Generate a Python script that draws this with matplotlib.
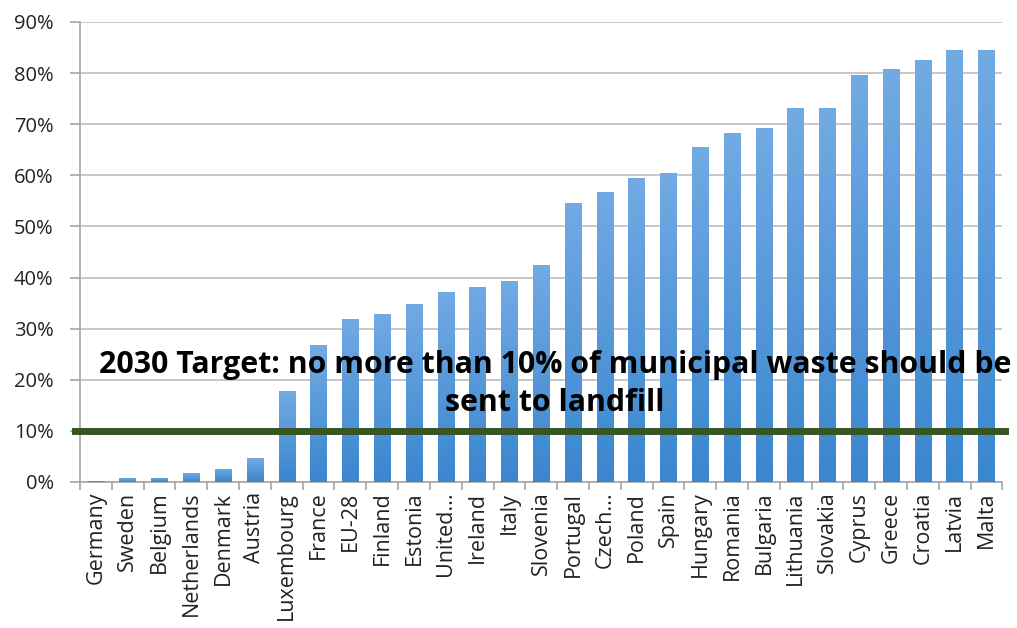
import numpy as np
import matplotlib.pyplot as plt
from matplotlib.ticker import FuncFormatter, MultipleLocator

countries = ['Germany', 'Sweden', 'Belgium', 'Netherlands', 'Denmark', 'Austria',
             'Luxembourg', 'France', 'EU-28', 'Finland', 'Estonia', 'United...',
             'Ireland', 'Italy', 'Slovenia', 'Portugal', 'Czech...', 'Poland',
             'Spain', 'Hungary', 'Romania', 'Bulgaria', 'Lithuania', 'Slovakia',
             'Cyprus', 'Greece', 'Croatia', 'Latvia', 'Malta']
landfill = [0.2, 0.7, 0.8, 1.7, 2.6, 4.6, 17.8, 26.8, 31.8, 32.9, 34.8, 37.1,
            38.2, 39.3, 42.4, 54.5, 56.7, 59.5, 60.5, 65.5, 68.2, 69.3, 73.2,
            73.2, 79.7, 80.8, 82.6, 84.5, 84.5]
target = 10
target_text = "2030 Target: no more than 10% of municipal waste should be\nsent to landfill"

plt.rcParams['font.family'] = ['Open Sans', 'DejaVu Sans']

fig = plt.figure(figsize=(10.17, 6.28), dpi=100)
ax = fig.add_axes([0.0787, 0.2325, 0.907, 0.7325])

x = np.arange(len(countries))
bar_w = 0.52
bars = ax.bar(x, landfill, width=bar_w, color='none', edgecolor='none', zorder=3)

# vertical gradient inside each bar, lighter at the top
grad = np.linspace(0, 1, 256).reshape(-1, 1)
cmap = plt.matplotlib.colors.LinearSegmentedColormap.from_list('bar', ['#3a86cf', '#72aae4'])
for b in bars:
    h = b.get_height()
    if h <= 0:
        continue
    x0 = b.get_x()
    im = ax.imshow(grad, extent=[x0, x0 + bar_w, 0, h], origin='lower', cmap=cmap,
                   aspect='auto', zorder=3)
    im.set_clip_path(b)

ax.set_xlim(-0.5, len(countries) - 0.5)
ax.set_ylim(0, 90)
ax.yaxis.set_major_locator(MultipleLocator(10))
ax.yaxis.set_major_formatter(FuncFormatter(lambda v, p: f'{v:.0f}%'))
ax.grid(True, axis='y', color='#bfbfbf', linewidth=1.2, zorder=0)
ax.set_axisbelow(True)

for s in ['top', 'right']:
    ax.spines[s].set_visible(False)
ax.spines['left'].set_color('#a6a6a6')
ax.spines['left'].set_linewidth(1.2)
ax.spines['bottom'].set_color('#a6a6a6')
ax.spines['bottom'].set_linewidth(1.2)

ax.set_xticks(x)
ax.set_xticklabels(countries, rotation=90, fontsize=15.5, color='#222222')
ax.set_xticks(np.arange(-0.5, len(countries)), minor=True)
ax.tick_params(axis='x', which='major', length=0, pad=7)
ax.tick_params(axis='x', which='minor', length=6, color='#a6a6a6', width=1.2)
ax.tick_params(axis='y', length=7, color='#a6a6a6', width=1.2, labelsize=14.5,
               labelcolor='#222222', pad=12)

ax.axhline(target, xmin=-0.006, xmax=1.003, color='#375623', linewidth=5,
           zorder=4, clip_on=False)

ax.text(0.515, 0.213, target_text, transform=ax.transAxes, ha='center', va='center',
        fontsize=21.8, fontweight='bold', color='black', linespacing=1.35, zorder=5)

fig.savefig('out.png', dpi=100)
